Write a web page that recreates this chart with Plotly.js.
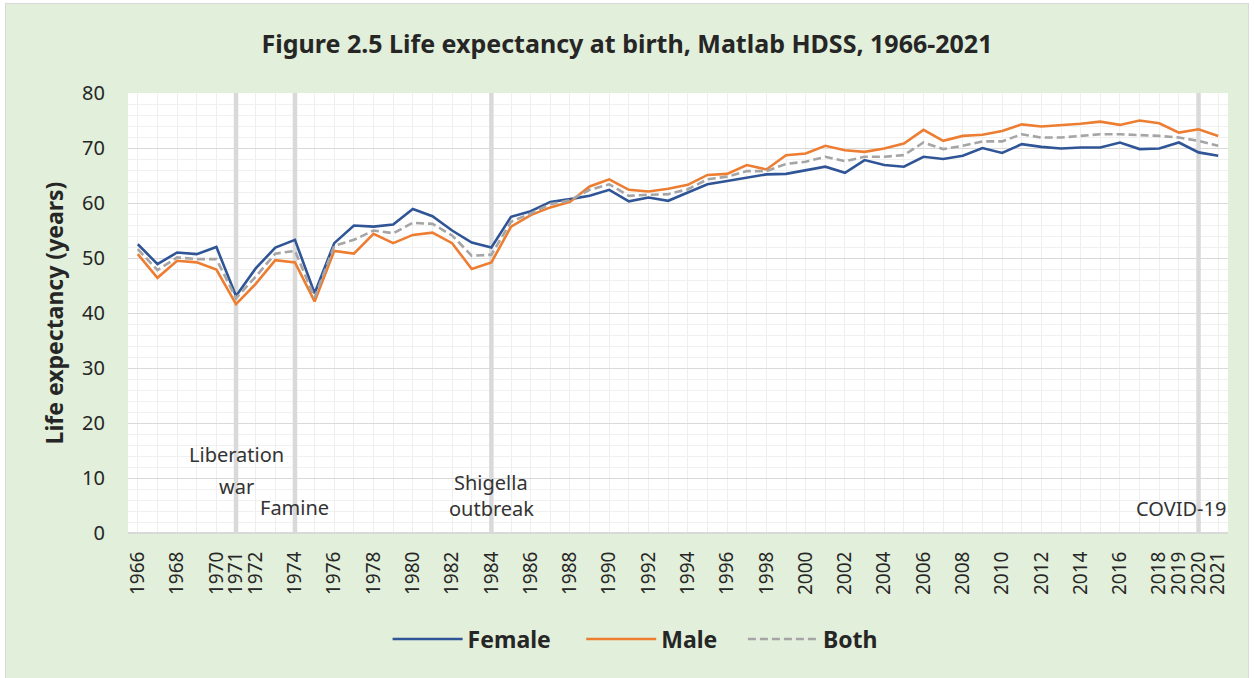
<!DOCTYPE html>
<html>
<head>
<meta charset="utf-8">
<script src="https://cdn.plot.ly/plotly-3.0.1.min.js"></script>
<style>
  html, body { margin: 0; padding: 0; background: #ffffff; }
  #chart { position: absolute; left: 5px; top: 3px; width: 1242px; height: 674px; border: 1px solid #d9d9d9; }
</style>
</head>
<body>
<div id="chart"></div>
<script>
const YEARS = [1966,1967,1968,1969,1970,1971,1972,1973,1974,1975,
  1976,1977,1978,1979,1980,1981,1982,1983,1984,1985,
  1986,1987,1988,1989,1990,1991,1992,1993,1994,1995,
  1996,1997,1998,1999,2000,2001,2002,2003,2004,2005,
  2006,2007,2008,2009,2010,2011,2012,2013,2014,2015,
  2016,2017,2018,2019,2020,2021];

const FEMALE = [52.5,48.9,51.0,50.7,52.0,43.1,48.1,51.9,53.3,43.6,
  52.7,55.9,55.7,56.1,58.9,57.6,55.0,52.8,51.9,57.5,
  58.5,60.2,60.7,61.3,62.4,60.3,61.0,60.4,61.9,63.4,
  64.0,64.6,65.2,65.3,66.0,66.6,65.5,67.8,66.9,66.6,
  68.4,68.0,68.6,70.0,69.1,70.7,70.2,69.9,70.1,70.1,
  71.0,69.8,69.9,71.0,69.2,68.6];

const MALE = [50.7,46.4,49.5,49.2,47.9,41.6,45.3,49.6,49.2,42.1,
  51.3,50.8,54.4,52.7,54.2,54.6,52.7,48.0,49.2,55.7,
  57.8,59.2,60.2,63.0,64.3,62.4,62.1,62.6,63.3,65.1,
  65.3,66.9,66.1,68.7,69.0,70.4,69.6,69.3,69.9,70.8,
  73.3,71.3,72.2,72.4,73.1,74.3,73.9,74.1,74.4,74.8,
  74.2,75.0,74.5,72.8,73.4,72.2];

const BOTH = [51.6,47.8,50.1,49.8,49.8,42.7,46.6,50.8,51.3,42.8,
  52.2,53.3,55.0,54.5,56.4,56.2,54.1,50.4,50.6,56.6,
  58.1,59.8,60.5,62.4,63.4,61.3,61.5,61.6,62.5,64.3,
  64.8,65.8,65.8,67.1,67.5,68.4,67.6,68.4,68.4,68.7,
  71.0,69.8,70.4,71.2,71.2,72.5,71.9,71.9,72.2,72.5,
  72.5,72.4,72.2,71.9,71.3,70.4];

const TICK_YEARS = [1966,1968,1970,1971,1972,1974,1976,1978,1980,1982,1984,
  1986,1988,1990,1992,1994,1996,1998,2000,2002,2004,2006,2008,2010,2012,
  2014,2016,2018,2019,2020,2021];

const EVENT_YEARS = [1971, 1974, 1984, 2020];

// event labels: [text, year, value]
const EVENT_LABELS = [
  ["Liberation", 1971, 14.2],
  ["war", 1971, 8.4],
  ["Famine", 1974, 4.7],
  ["Shigella", 1984, 9.1],
  ["outbreak", 1984, 4.4],
  ["COVID-19", 2019.1, 4.4]
];

const FONT = '"Noto Sans", "Open Sans", sans-serif';
const TXT = '#262626';

const traces = [
  {x: YEARS, y: FEMALE, name: 'Female', type: 'scatter', mode: 'lines',
   line: {color: '#2f5597', width: 2.6}, legend: 'legend'},
  {x: YEARS, y: MALE, name: 'Male', type: 'scatter', mode: 'lines',
   line: {color: '#ed7d31', width: 2.6}, legend: 'legend2'},
  {x: YEARS, y: BOTH, name: 'Both', type: 'scatter', mode: 'lines',
   line: {color: '#a5a5a5', width: 2.6, dash: '8px,4px'}, legend: 'legend3'}
];

const shapes = EVENT_YEARS.map(yr => ({
  type: 'line', xref: 'x', yref: 'y', x0: yr, x1: yr, y0: 0, y1: 80,
  line: {color: '#d9d9d9', width: 4.5}, layer: 'between'
}));

const annotations = EVENT_LABELS.map(e => ({
  text: e[0], x: e[1], y: e[2], xref: 'x', yref: 'y', showarrow: false,
  xanchor: 'center', yanchor: 'middle',
  font: {family: FONT, size: 20, color: '#333333'}
}));

const legendBase = {
  orientation: 'h', xanchor: 'left', yanchor: 'middle', y: -0.241,
  bgcolor: 'rgba(0,0,0,0)', itemwidth: 70,
  font: {family: FONT, size: 23, color: TXT, weight: 'bold'}
};

const layout = {
  width: 1242, height: 674,
  paper_bgcolor: '#e2efda', plot_bgcolor: '#ffffff',
  margin: {l: 122, r: 20, t: 89, b: 145},
  font: {family: FONT, color: TXT},
  title: {text: '<b>Figure 2.5 Life expectancy at birth, Matlab HDSS, 1966-2021</b>',
    x: 0.5, xanchor: 'center', y: 0.94, yanchor: 'middle',
    font: {family: FONT, size: 25, color: TXT}},
  showlegend: true,
  legend: Object.assign({}, legendBase, {x: 0.236}),
  legend2: Object.assign({}, legendBase, {x: 0.412}),
  legend3: Object.assign({}, legendBase, {x: 0.559}),
  xaxis: {
    range: [1965.5, 2021.5], tickmode: 'array', tickvals: TICK_YEARS,
    ticktext: TICK_YEARS.map(String), tickangle: -90,
    tickfont: {family: FONT, size: 19, color: TXT},
    ticks: 'outside', ticklen: 10, tickcolor: 'rgba(0,0,0,0)',
    showgrid: true, gridcolor: '#efefef', gridwidth: 1,
    minor: {dtick: 1, tick0: 1966, showgrid: true, gridcolor: '#efefef', gridwidth: 1},
    showline: false, zeroline: false, fixedrange: true
  },
  yaxis: {
    range: [0, 80], dtick: 10, tick0: 0,
    tickfont: {family: FONT, size: 20, color: TXT},
    ticks: 'outside', ticklen: 18, tickcolor: 'rgba(0,0,0,0)',
    showgrid: true, gridcolor: '#d9d9d9', gridwidth: 1,
    minor: {dtick: 2, showgrid: true, gridcolor: '#f0f0f0', gridwidth: 1},
    zeroline: true, zerolinecolor: '#d9d9d9', zerolinewidth: 1.5,
    showline: false, fixedrange: true,
    title: {text: '<b>Life expectancy (years)</b>', standoff: 12,
      font: {family: FONT, size: 23, color: TXT}}
  },
  shapes: shapes,
  annotations: annotations
};

Plotly.newPlot('chart', traces, layout, {displayModeBar: false, staticPlot: true});
</script>
</body>
</html>
